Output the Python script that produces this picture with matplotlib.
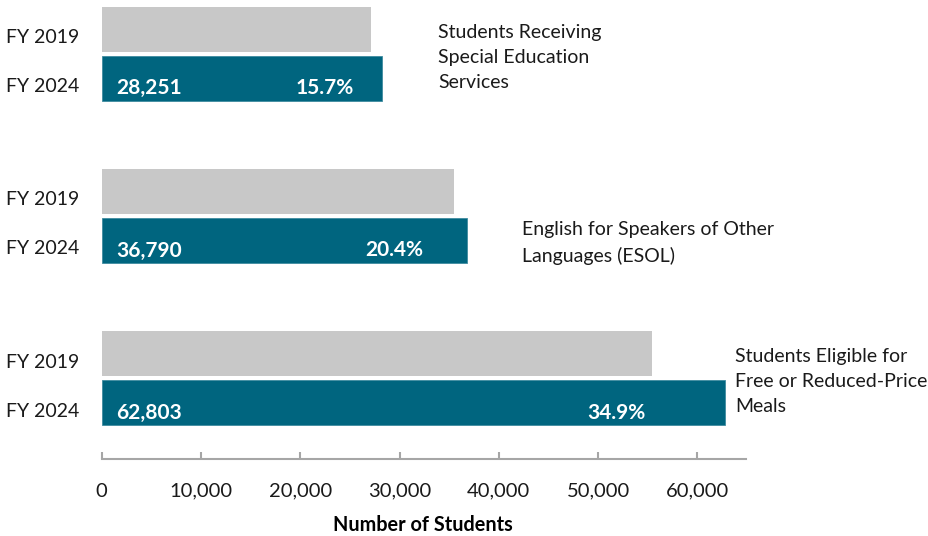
import matplotlib.pyplot as plt
import matplotlib.transforms as mtransforms

plt.rcParams["font.family"] = ["Lato", "DejaVu Sans"]

# student counts by program, top to bottom
categories = [
    "Students Receiving\nSpecial Education\nServices",
    "English for Speakers of Other\nLanguages (ESOL)",
    "Students Eligible for\nFree or Reduced-Price\nMeals",
]
fy2019 = [27090, 35480, 55390]
fy2024 = [28251, 36790, 62803]
share_2024 = ["15.7%", "20.4%", "34.9%"]
year_labels = ["FY 2019", "FY 2024"]

# layout
teal = "#00657f"
grey = "#c8c8c8"
axis_grey = "#a6a6a6"
group_y = [2, 1, 0]
offset = 0.151
height = 0.2775
pct_right = [25400, 32360, 54810]
cat_x = [33875, 42305, 63790]
cat_y = [1.976, 0.834, -0.02]

fig = plt.figure(figsize=(9.29, 5.36), dpi=100)
ax = fig.add_axes([101.7 / 929, 77 / 536, 644.3 / 929, 459 / 536])

y19 = [g + offset for g in group_y]
y24 = [g - offset for g in group_y]
ax.barh(y19, fy2019, height=height, color=grey, linewidth=0)
ax.barh(y24, fy2024, height=height, color=teal, edgecolor="#3f8ba0",
        linewidth=0.6)

ax.set_xlim(0, 64900)
ax.set_ylim(-0.5, 2.331)

ylab = mtransforms.blended_transform_factory(ax.transAxes, ax.transData)
for i in range(3):
    for yy, lab in zip([y19[i], y24[i]], year_labels):
        ax.text(-0.035, yy - 0.087, lab, transform=ylab, ha="right",
                va="baseline", fontsize=14, color="#1a1a1a")
    ax.text(1450, y24[i] - 0.1, f"{fy2024[i]:,}", ha="left", va="baseline",
            fontsize=15, fontweight="bold", color="white")
    ax.text(pct_right[i], y24[i] - 0.1, share_2024[i], ha="right",
            va="baseline", fontsize=15, fontweight="bold", color="white")
    ax.text(cat_x[i], cat_y[i], categories[i], ha="left", va="center",
            fontsize=14, linespacing=1.58, color="#1a1a1a", clip_on=False)

for side in ["left", "right", "top"]:
    ax.spines[side].set_visible(False)
ax.spines["bottom"].set_color(axis_grey)
ax.spines["bottom"].set_linewidth(1.5)
ax.set_yticks([])
ax.set_xticks(range(0, 60001, 10000))
ax.set_xticklabels([f"{v:,}" for v in range(0, 60001, 10000)])
ax.tick_params(axis="x", direction="in", length=5, width=1.5,
               color=axis_grey, pad=17, labelsize=14.5, labelcolor="#1a1a1a")
ax.set_xlabel("Number of Students", fontsize=14.3, fontweight="bold",
              va="center")
ax.xaxis.set_label_coords(0.4987, -0.144)

fig.savefig("out.png", dpi=100)
